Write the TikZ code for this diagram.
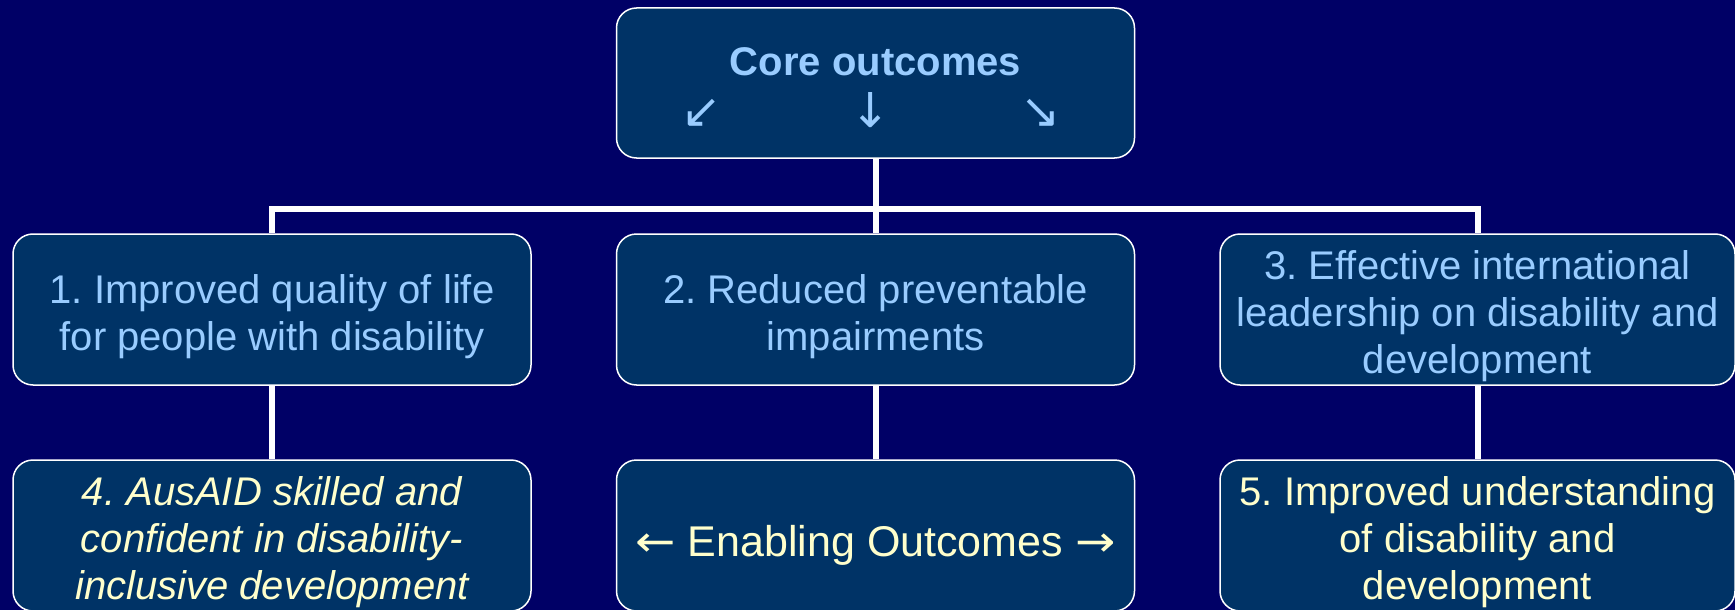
\documentclass[tikz,border=0pt]{standalone}
\usepackage{graphicx}
\usepackage{fontspec}
\setmainfont{Liberation Sans}
\newfontfamily\arrowfont{DejaVu Sans}
\definecolor{bg}{HTML}{000066}
\definecolor{boxfill}{HTML}{003366}
\definecolor{ltblue}{HTML}{99CCFF}
\definecolor{ltyellow}{HTML}{FFFFCC}
\frenchspacing
\begin{document}
\begin{tikzpicture}[x=1pt,y=1pt,
  outbox/.style={draw=white, line width=1.5pt, fill=boxfill, rounded corners=20pt,
    minimum width=518pt, minimum height=151pt, inner sep=0pt},
  boxtext/.style={inner sep=0pt, align=center, font=\fontsize{40}{47}\selectfont},
  coretext/.style={boxtext, text=ltblue},
  enabtext/.style={boxtext, text=ltyellow},
  conn/.style={draw=white, line width=6pt, line join=miter}]
\useasboundingbox (0,0) rectangle (1735,-610);
\fill[bg] (0,0) rectangle (1735,-610);
\coordinate (bus) at (0,-209);
% boxes
\node[outbox, minimum height=150pt] (top) at (875.5,-83) {};
\node[outbox] (b1) at (272,-309.5) {};
\node[outbox] (b2) at (875.5,-309.5) {};
\node[outbox, minimum width=515pt] (b3) at (1477.5,-309.5) {};
\node[outbox] (b4) at (272,-535.5) {};
\node[outbox] (b5) at (875.5,-535.5) {};
\node[outbox, minimum width=515pt] (b6) at (1477.5,-535.5) {};
% texts
\node[coretext, font=\fontsize{40}{47}\selectfont\bfseries] (ttl) at (875.5,-62) {Core outcomes};
\node[coretext] (arr) at (871,-110) {\arrowfont\fontsize{48}{54}\selectfont ↙\hspace{129pt}↓\hspace{129pt}↘};
\node[coretext] (t1) at ([yshift=-7pt]b1.center) {1. Improved quality of life\\for people with disability};
\node[coretext] (t2) at ([yshift=-7pt]b2.center) {2. Reduced preventable\\impairments};
\node[coretext] (t3) at ([yshift=-7pt]b3.center) {3. Effective international\\leadership on disability and\\development};
\node[enabtext, font=\fontsize{40}{47}\selectfont\itshape] (t4) at ([yshift=-7pt]b4.center) {4. AusAID skilled and\\confident in disability-\\inclusive development};
\node[enabtext, font=\fontsize{43}{50}\selectfont] (t5) at ([yshift=-10pt]b5.center) {\scalebox{1.12}[1]{\arrowfont ←} Enabling Outcomes \scalebox{1.12}[1]{\arrowfont →}};
\node[enabtext] (t6) at ([yshift=-7pt]b6.center) {5. Improved understanding\\of disability and\\development};
% connectors
\draw[conn] (top.south) -- (b2.north);
\draw[conn] (b1.north) -- (b1.north |- bus) -- (b3.north |- bus) -- (b3.north);
\draw[conn] (b1.south) -- (b4.north);
\draw[conn] (b2.south) -- (b5.north);
\draw[conn] (b3.south) -- (b6.north);
\end{tikzpicture}
\end{document}
